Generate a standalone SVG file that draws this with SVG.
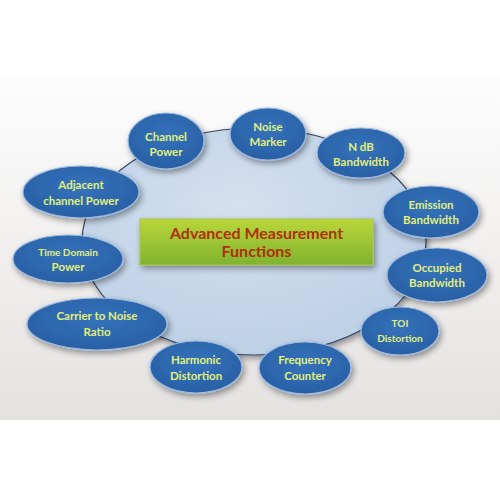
<svg xmlns="http://www.w3.org/2000/svg" width="500" height="500" viewBox="0 0 500 500">
<defs>
<linearGradient id="bg" x1="0" y1="0" x2="0" y2="1">
<stop offset="0" stop-color="#fdfdfd"/>
<stop offset="1" stop-color="#e4e2e0"/>
</linearGradient>
<radialGradient id="big" cx="0.45" cy="0.35" r="0.7">
<stop offset="0" stop-color="#d3e0ef"/>
<stop offset="1" stop-color="#bccfe5"/>
</radialGradient>
<radialGradient id="node" cx="0.5" cy="0.4" r="0.6">
<stop offset="0" stop-color="#3372bb"/>
<stop offset="1" stop-color="#2a60a5"/>
</radialGradient>
<linearGradient id="box" x1="0" y1="0" x2="0" y2="1">
<stop offset="0" stop-color="#b9d63a"/>
<stop offset="1" stop-color="#80b32f"/>
</linearGradient>
<filter id="sh" x="-20%" y="-20%" width="150%" height="160%">
<feGaussianBlur in="SourceAlpha" stdDeviation="3"/>
<feOffset dx="2" dy="3" result="b"/>
<feComponentTransfer><feFuncA type="linear" slope="0.4"/></feComponentTransfer>
<feMerge><feMergeNode/><feMergeNode in="SourceGraphic"/></feMerge>
</filter>
</defs>
<style>
.n ellipse{fill:url(#node);stroke:#9dbbe0;stroke-width:1.2;filter:url(#sh)}
.n text{font-family:Lato,"Open Sans",sans-serif;font-weight:bold;font-size:11.5px;fill:#e2ef7c;text-anchor:middle}
.n text.s{font-size:10px}
.t{font-family:Lato,"Open Sans",sans-serif;font-weight:bold;font-size:16px;fill:#b02f0c;text-anchor:middle}
</style>
<rect x="0" y="0" width="500" height="500" fill="#ffffff"/>
<rect x="0" y="78" width="500" height="342" fill="url(#bg)"/>
<g id="connectors">
<ellipse cx="254" cy="241.5" rx="172" ry="113.5" fill="url(#big)" stroke="#34456a" stroke-width="1.2" filter="url(#sh)"/>
</g>
<g id="center">
<rect x="140" y="219" width="233" height="46" fill="url(#box)" stroke="#a6c74a" stroke-width="1" filter="url(#sh)"/>
<text class="t" x="256.5" y="239">Advanced Measurement</text>
<text class="t" x="256.5" y="257">Functions</text>
</g>
<g id="channel-power" class="n"><ellipse cx="166" cy="141" rx="38" ry="28"/><text x="166" y="141">Channel</text><text x="166" y="156">Power</text></g>
<g id="noise-marker" class="n"><ellipse cx="268" cy="134" rx="38" ry="26"/><text x="268" y="131">Noise</text><text x="268" y="146">Marker</text></g>
<g id="ndb-bandwidth" class="n"><ellipse cx="361" cy="153" rx="44" ry="25"/><text x="361" y="151">N dB</text><text x="361" y="166">Bandwidth</text></g>
<g id="adjacent-channel-power" class="n"><ellipse cx="81" cy="192" rx="58" ry="26"/><text x="81" y="189">Adjacent</text><text x="81" y="205">channel Power</text></g>
<g id="time-domain-power" class="n"><ellipse cx="68" cy="259" rx="55" ry="24"/><text class="s" x="68" y="255.5">Time Domain</text><text x="68" y="271">Power</text></g>
<g id="emission-bandwidth" class="n"><ellipse cx="431" cy="212" rx="48" ry="26"/><text x="431" y="209">Emission</text><text x="431" y="224">Bandwidth</text></g>
<g id="occupied-bandwidth" class="n"><ellipse cx="437" cy="275" rx="50" ry="27"/><text x="437" y="272">Occupied</text><text x="437" y="287">Bandwidth</text></g>
<g id="carrier-to-noise-ratio" class="n"><ellipse cx="97" cy="324" rx="70" ry="26"/><text x="97" y="320">Carrier to Noise</text><text x="97" y="336">Ratio</text></g>
<g id="harmonic-distortion" class="n"><ellipse cx="196" cy="367" rx="46" ry="26"/><text x="196" y="364">Harmonic</text><text x="196" y="380">Distortion</text></g>
<g id="frequency-counter" class="n"><ellipse cx="305" cy="368" rx="46" ry="26"/><text x="305" y="364">Frequency</text><text x="305" y="380">Counter</text></g>
<g id="toi-distortion" class="n"><ellipse cx="400" cy="331" rx="39" ry="24"/><text class="s" x="400" y="326.5">TOI</text><text class="s" x="400" y="341.5">Distortion</text></g>
</svg>
